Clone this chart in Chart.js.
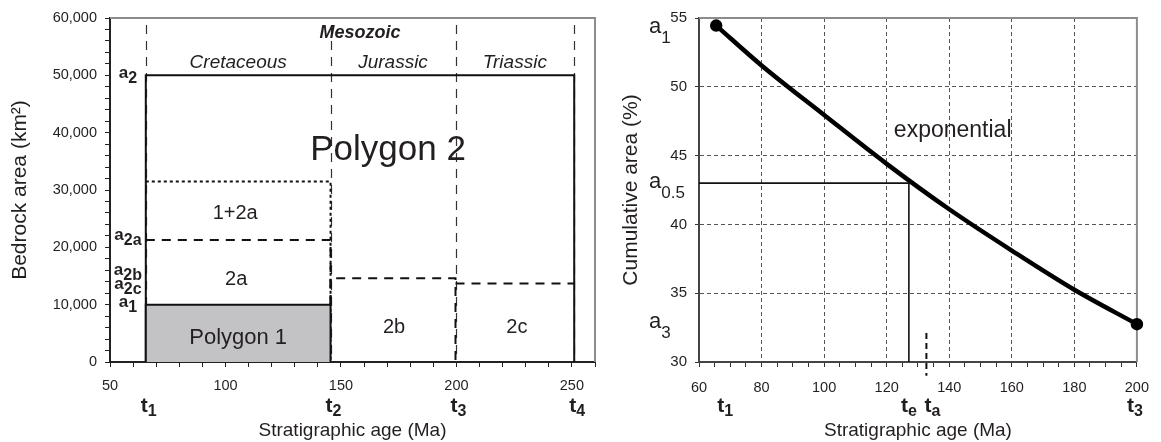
<!DOCTYPE html>
<html>
<head>
<meta charset="utf-8">
<script src="https://cdn.jsdelivr.net/npm/chart.js@4.4.0/dist/chart.umd.min.js"></script>
<style>
  html, body { margin: 0; padding: 0; background: #fff; }
  #wrap { position: relative; width: 1161px; height: 442px; }
  #left { position: absolute; left: 0; top: 0; }
  #right { position: absolute; left: 605px; top: 0; }
</style>
</head>
<body>
<div id="wrap">
  <canvas id="left" width="605" height="442"></canvas>
  <canvas id="right" width="556" height="442"></canvas>
</div>
<script>
// ── left panel: bedrock area polygons ─────────────
const eraName = 'Mesozoic';
const periodNames = ['Cretaceous', 'Jurassic', 'Triassic'];
const boundaryAges = [65.5, 145.5, 199.6, 251];      // t1..t4
const boundarySubs = ['1', '2', '3', '4'];
const levelSubs = ['2', '2a', '2b', '2c', '1'];       // a2, a2a, a2b, a2c, a1
const levelAreas = [50000, 21300, 14600, 13700, 10000];
const area12a = 31500;                                // 1+2a top
const areaTickLabels = [0, 10000, 20000, 30000, 40000, 50000, 60000];
const ageTickLabelsL = [50, 100, 150, 200, 250];

// ── right panel: cumulative area curve ───────────
const curveAges = [65.5, 80, 100, 120, 140, 160, 180, 200];
const curvePct = [54.45, 51.55, 47.95, 44.4, 41.1, 38.1, 35.25, 32.75];
const halfPct = 43.0;        // a0.5
const ageE = 127.1;          // te
const ageA = 132.7;          // ta
const pctTickLabels = [30, 35, 40, 45, 50, 55];
const ageTickLabelsR = [60, 80, 100, 120, 140, 160, 180, 200];

const FONT = "'Liberation Sans', Arial, Helvetica, sans-serif";
const INK = '#231f20';
Chart.defaults.font.family = FONT;
Chart.defaults.color = INK;

function pts(xs, ys) { return xs.map((x, i) => ({ x, y: ys[i] })); }

// base letter + subscript, e.g. a_2a / t_1
function subLabel(ctx, base, sub, x, y, size, subSize, bold, drop, align) {
  const w = bold ? 'bold ' : '';
  ctx.font = w + size + 'px ' + FONT;
  const bw = ctx.measureText(base).width;
  ctx.font = w + subSize + 'px ' + FONT;
  const sw = ctx.measureText(sub).width;
  const x0 = align === 'left' ? x : x - (bw + sw) / 2;
  ctx.textAlign = 'left';
  ctx.textBaseline = 'alphabetic';
  ctx.fillStyle = INK;
  ctx.font = w + size + 'px ' + FONT;
  ctx.fillText(base, x0, y);
  ctx.font = w + subSize + 'px ' + FONT;
  ctx.fillText(sub, x0 + bw, y + drop);
}

function txt(ctx, s, x, y, font, align) {
  ctx.font = font;
  ctx.textAlign = align || 'center';
  ctx.textBaseline = 'alphabetic';
  ctx.fillStyle = INK;
  ctx.fillText(s, x, y);
}

function frameTopRight(ctx, a, color) {
  ctx.save();
  ctx.strokeStyle = color;
  ctx.lineWidth = 2;
  ctx.beginPath();
  ctx.moveTo(a.left, a.top);
  ctx.lineTo(a.right, a.top);
  ctx.lineTo(a.right, a.bottom);
  ctx.stroke();
  ctx.restore();
}

const [t1, t2, t3, t4] = boundaryAges;
const [aA2, aA2a, aA2b, aA2c, aA1] = levelAreas;

const leftDeco = {
  id: 'leftDeco',
  beforeDatasetsDraw(chart) {
    const { ctx, chartArea: a, scales: { x } } = chart;
    ctx.save();
    ctx.strokeStyle = '#333';
    ctx.lineWidth = 1.2;
    ctx.setLineDash([9, 7]);
    boundaryAges.forEach(t => {
      const px = Math.round(x.getPixelForValue(t)) + 0.5;
      ctx.beginPath();
      ctx.moveTo(px, a.top + 7);
      ctx.lineTo(px, a.bottom);
      ctx.stroke();
    });
    ctx.restore();
  },
  afterDraw(chart) {
    const { ctx, chartArea: a, scales: { x, y } } = chart;
    frameTopRight(ctx, a, '#8c8c8c');

    const mid = (p, q) => (x.getPixelForValue(p) + x.getPixelForValue(q)) / 2;
    txt(ctx, eraName, mid(t1, t4), 38, 'bold italic 18px ' + FONT);
    periodNames.forEach((n, i) => {
      txt(ctx, n, mid(boundaryAges[i], boundaryAges[i + 1]), 68, 'italic 19px ' + FONT);
    });

    txt(ctx, 'Polygon 2', x.getPixelForValue(170.4), y.getPixelForValue(35200), '35px ' + FONT);
    txt(ctx, '1+2a', mid(t1, t2) - 3, y.getPixelForValue(26400) + 8, '20px ' + FONT);
    txt(ctx, '2a', mid(t1, t2) - 2, y.getPixelForValue(14700) + 7, '20px ' + FONT);
    txt(ctx, 'Polygon 1', mid(t1, t2), y.getPixelForValue(3100), '22px ' + FONT);
    txt(ctx, '2b', mid(t2, t3) + 1, y.getPixelForValue(6200) + 7, '20px ' + FONT);
    txt(ctx, '2c', mid(t3, t4) + 2, y.getPixelForValue(6200) + 7, '20px ' + FONT);

    // a-levels between axis and t1
    const cx = (a.left + x.getPixelForValue(t1)) / 2;
    const nudge = [3, 0, -3, 6, 2];
    levelAreas.forEach((v, i) => {
      subLabel(ctx, 'a', levelSubs[i], cx, y.getPixelForValue(v) + nudge[i], 17, 16, true, 5);
    });

    // t-labels under age axis
    boundaryAges.forEach((t, i) => {
      subLabel(ctx, 't', boundarySubs[i], x.getPixelForValue(t) + 3, 412, 21, 16, true, 4);
    });
  }
};

new Chart(document.getElementById('left'), {
  type: 'scatter',
  data: {
    datasets: [
      { // polygon 1, shaded
        data: pts([t1, t1, t2, t2], [0, aA1, aA1, 0]),
        showLine: true, fill: 'origin', backgroundColor: '#c3c3c6',
        borderColor: '#111', borderWidth: 2, pointRadius: 0, tension: 0
      },
      { // polygon 2 outline
        data: pts([t1, t1, t4, t4], [0, aA2, aA2, 0]),
        showLine: true, borderColor: '#111', borderWidth: 2, pointRadius: 0, tension: 0
      },
      { // 1+2a
        data: pts([t1, t2, t2], [area12a, area12a, 0]),
        showLine: true, borderColor: '#111', borderWidth: 2, borderDash: [3, 3], pointRadius: 0
      },
      { // 2a
        data: pts([t1, t2, t2], [aA2a, aA2a, aA1]),
        showLine: true, borderColor: '#111', borderWidth: 2, borderDash: [9, 7], pointRadius: 0
      },
      { // 2b
        data: pts([t2, t2, t3, t3], [aA1, aA2b, aA2b, 0]),
        showLine: true, borderColor: '#111', borderWidth: 2, borderDash: [9, 7], pointRadius: 0
      },
      { // 2c
        data: pts([t3, t4], [aA2c, aA2c]),
        showLine: true, borderColor: '#111', borderWidth: 2, borderDash: [9, 7], pointRadius: 0
      }
    ]
  },
  options: {
    responsive: false,
    animation: false,
    devicePixelRatio: 1,
    layout: { padding: { top: 18, right: 6, left: 0, bottom: 0 } },
    plugins: { legend: { display: false }, tooltip: { enabled: false } },
    scales: {
      x: {
        type: 'linear', min: 50, max: 260,
        ticks: {
          stepSize: 10, autoSkip: false, maxRotation: 0, padding: 10,
          font: { size: 14.5 }, color: INK,
          callback: v => ageTickLabelsL.includes(v) ? String(v) : ''
        },
        grid: { drawOnChartArea: false, tickLength: 5, tickColor: '#222' },
        border: { color: '#222', width: 2 },
        title: { display: true, text: 'Stratigraphic age (Ma)', font: { size: 19 }, color: INK, padding: { top: 0, bottom: 0 } },
        afterFit: s => { s.height = 80; }
      },
      y: {
        min: 0, max: 60000,
        ticks: {
          stepSize: 2000, autoSkip: false, padding: 8,
          font: { size: 14.5 }, color: INK,
          callback: v => areaTickLabels.includes(v) ? v.toLocaleString('en-US') : ''
        },
        grid: { drawOnChartArea: false, tickLength: 5, tickColor: '#222' },
        border: { color: '#222', width: 2 },
        title: { display: true, text: 'Bedrock area (km²)', font: { size: 21 }, color: INK, padding: { top: 8, bottom: 0 } },
        afterFit: s => { s.width = 110; }
      }
    }
  },
  plugins: [leftDeco]
});

// ── right panel ───────────────────────────────────
const rightDeco = {
  id: 'rightDeco',
  afterDraw(chart) {
    const { ctx, chartArea: a, scales: { x, y } } = chart;

    txt(ctx, 'exponential', x.getPixelForValue(122.3), y.getPixelForValue(46.36), '23px ' + FONT, 'left');

    const aPct = [curvePct[0], halfPct, curvePct[curvePct.length - 1]];
    const aSubs = ['1', '0.5', '3'];
    const nudge = [7, 5, 4];
    aPct.forEach((v, i) => {
      subLabel(ctx, 'a', aSubs[i], 44, y.getPixelForValue(v) + nudge[i], 22, 17, false, 10, 'left');
    });

    const tAges = [curveAges[0], ageE, ageA, curveAges[curveAges.length - 1]];
    const tSubs = ['1', 'e', 'a', '3'];
    const dx = [9, 0, 6, -2];
    tAges.forEach((t, i) => {
      subLabel(ctx, 't', tSubs[i], x.getPixelForValue(t) + dx[i], 412, 21, 16, true, 4);
    });
  },
  beforeDatasetsDraw(chart) {
    frameTopRight(chart.ctx, chart.chartArea, '#8c8c8c');
  }
};

const gridDash = '#555';
new Chart(document.getElementById('right'), {
  type: 'scatter',
  data: {
    datasets: [
      { // exponential curve
        data: pts(curveAges, curvePct),
        showLine: true, borderColor: '#000', borderWidth: 4.5,
        cubicInterpolationMode: 'monotone', clip: false,
        pointRadius: c => (c.dataIndex === 0 || c.dataIndex === curveAges.length - 1) ? 4 : 0,
        pointBackgroundColor: '#000', pointBorderColor: '#000'
      },
      { // a0.5 -> te
        data: pts([60, ageE, ageE], [halfPct, halfPct, 30]),
        showLine: true, borderColor: '#111', borderWidth: 1.6, pointRadius: 0, tension: 0
      },
      { // ta marker
        data: pts([ageA, ageA], [32.1, 29.0]),
        showLine: true, borderColor: '#111', borderWidth: 2, borderDash: [6, 4],
        pointRadius: 0, clip: false
      }
    ]
  },
  options: {
    responsive: false,
    animation: false,
    devicePixelRatio: 1,
    layout: { padding: { top: 18, right: 11, left: 0, bottom: 0 } },
    plugins: { legend: { display: false }, tooltip: { enabled: false } },
    scales: {
      x: {
        type: 'linear', min: 60, max: 200,
        ticks: {
          stepSize: 5, autoSkip: false, maxRotation: 0, padding: 12,
          font: { size: 14.5 }, color: INK,
          callback: v => ageTickLabelsR.includes(v) ? String(v) : ''
        },
        grid: {
          color: c => (c.tick && ageTickLabelsR.includes(c.tick.value)) ? gridDash : 'rgba(0,0,0,0)',
          lineWidth: 1, tickLength: 5, tickColor: '#333'
        },
        border: { color: '#444', width: 2, dash: [4, 3] },
        title: { display: true, text: 'Stratigraphic age (Ma)', font: { size: 19 }, color: INK, padding: { top: 0, bottom: 0 } },
        afterFit: s => { s.height = 80; }
      },
      y: {
        min: 30, max: 55,
        ticks: {
          stepSize: 5, autoSkip: false, padding: 8,
          font: { size: 15 }, color: INK,
          callback: v => pctTickLabels.includes(v) ? String(v) : ''
        },
        grid: { color: gridDash, lineWidth: 1, tickLength: 4, tickColor: '#333' },
        border: { color: '#444', width: 2, dash: [4, 3] },
        title: { display: true, text: 'Cumulative area (%)', font: { size: 21 }, color: INK, padding: { top: 14, bottom: 0 } },
        afterFit: s => { s.width = 94; }
      }
    }
  },
  plugins: [rightDeco]
});
</script>
</body>
</html>
